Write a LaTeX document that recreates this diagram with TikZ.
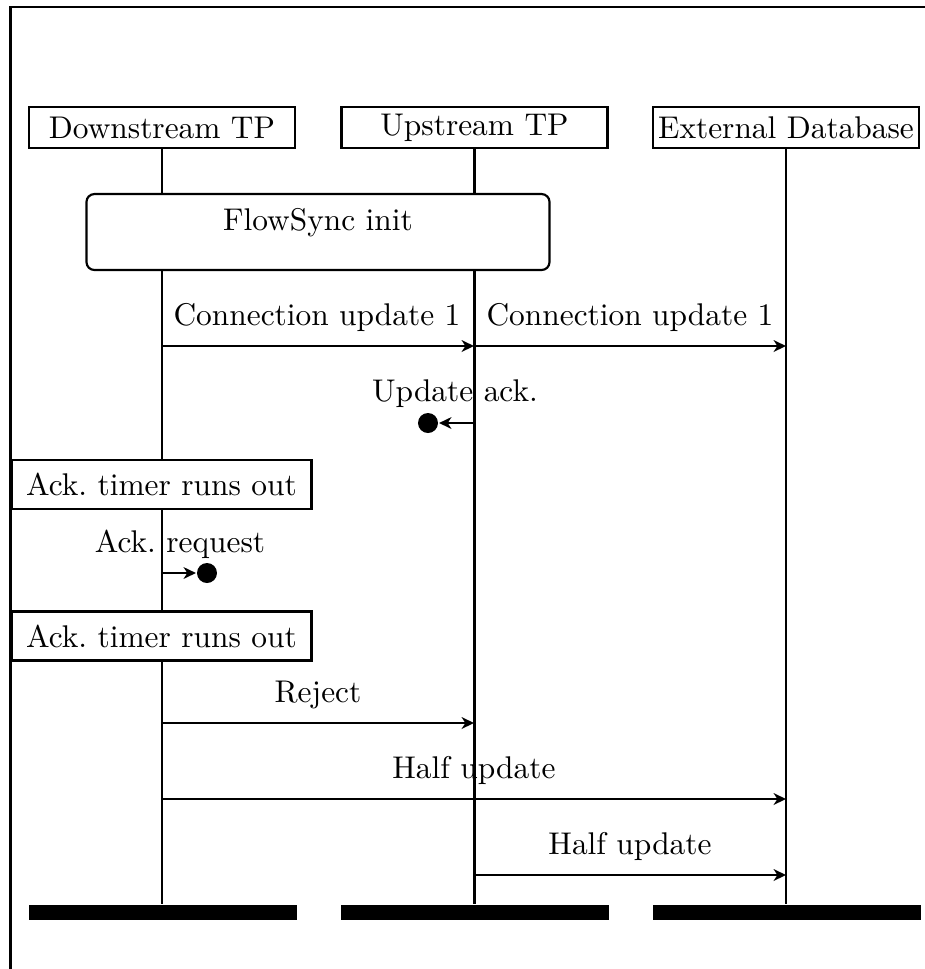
\documentclass[tikz,border=0pt]{standalone}
\usetikzlibrary{arrows.meta}
\begin{document}
\begin{tikzpicture}[x=0.325pt,y=-0.325pt,
  line width=0.7pt,
  every node/.style={font=\fontsize{10.2pt}{12pt}\selectfont},
  inst/.style={draw,minimum width=86.45pt,minimum height=13.3pt,inner sep=0pt},
  instfoot/.style={fill=black,minimum width=87.1pt,minimum height=4.9pt,inner sep=0pt},
  lifeline/.style={draw},
  msg/.style={-{Stealth[length=4pt,width=3.8pt,inset=1.2pt]}},
  msglabel/.style={anchor=base,inner sep=0pt},
  action/.style={draw,fill=white,minimum width=97.5pt,minimum height=15.9pt,inner sep=0pt},
  region/.style={draw,fill=white,rounded corners=2.6pt,minimum width=150.5pt,minimum height=24.7pt,inner sep=0pt},
  lost/.style={circle,fill=black,minimum size=6.5pt,inner sep=0pt},
]
\useasboundingbox (0,0) rectangle (925,969);

% outer frame
\draw (10.5,969) -- (10.5,7) -- (925,7);

% instance heads and feet
\node[inst] (ds) at (162,127.5) {Downstream TP};
\node[inst] (us) at (474.5,127.5) {Upstream TP};
\node[inst] (db) at (786,127.5) {External Database};
\node[instfoot] (dsfoot) at (163,912.5) {};
\node[instfoot] (usfoot) at (475,912.5) {};
\node[instfoot] (dbfoot) at (787,912.5) {};

% lifelines
\draw[lifeline] (ds.south) -- (ds.south |- dsfoot.north);
\draw[lifeline] (us.south) -- (us.south |- usfoot.north);
\draw[lifeline] (db.south) -- (db.south |- dbfoot.north);

% FlowSync region
\node[region] (init) at (318,232) {};
\node[msglabel] (inittext) at (318,230) {FlowSync init};

% message end points
\coordinate (m1a) at (162,346);
\coordinate (m1b) at (474,346);
\coordinate (m2b) at (786,346);
\coordinate (m3a) at (474,423);
\coordinate (m4a) at (162,573);
\coordinate (m5a) at (162,723);
\coordinate (m5b) at (474,723);
\coordinate (m6a) at (162,799);
\coordinate (m6b) at (786,799);
\coordinate (m7a) at (474,875);
\coordinate (m7b) at (786,875);

% lost message markers
\node[lost] (dot1) at (428,423) {};
\node[lost] (dot2) at (207,573) {};

% local actions
\node[action] (timer1) at (161.5,484.5) {Ack.\ timer runs out};
\node[action] (timer2) at (161.5,636) {Ack.\ timer runs out};

% messages
\draw[msg] (m1a) -- (m1b);
\node[msglabel] (l1) at (317,325) {Connection update 1};
\draw[msg] (m1b) -- (m2b);
\node[msglabel] (l2) at (630,325) {Connection update 1};
\draw[msg] (m3a) -- (dot1);
\node[msglabel] (l3) at (455,401) {Update ack.};
\draw[msg] (m4a) -- (dot2);
\node[msglabel] (l4) at (180,552) {Ack.\ request};
\draw[msg] (m5a) -- (m5b);
\node[msglabel] (l5) at (318,702) {Reject};
\draw[msg] (m6a) -- (m6b);
\node[msglabel] (l6) at (474,778) {Half update};
\draw[msg] (m7a) -- (m7b);
\node[msglabel] (l7) at (630,854) {Half update};
\end{tikzpicture}
\end{document}
